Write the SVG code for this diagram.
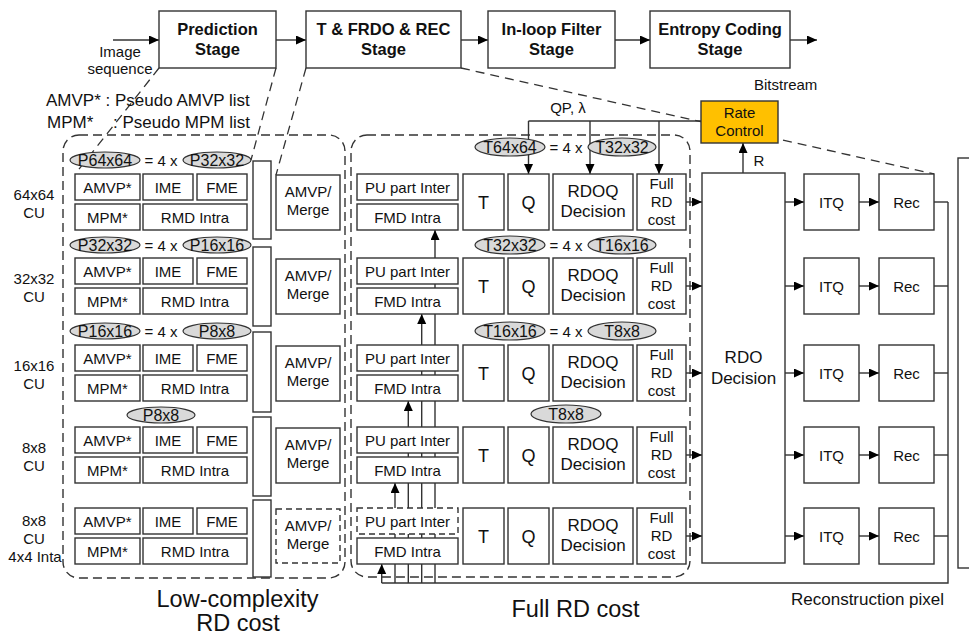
<svg xmlns="http://www.w3.org/2000/svg" width="969" height="638" viewBox="0 0 969 638">
<style>
text{font-family:"Liberation Sans",Arial,Helvetica,sans-serif;fill:#111;text-anchor:middle}
.t15{font-size:15px}
.t16{font-size:16px}
.t17{font-size:17px}
.t18{font-size:18px}
.big{font-size:23.5px}
.bold{font-size:16.5px;font-weight:bold}
.st{text-anchor:start}
.box{fill:#fff;stroke:#333;stroke-width:1.4}
.dbox{fill:#fff;stroke:#333;stroke-width:1.4;stroke-dasharray:6 4}
.ell{fill:#d9d9d9;stroke:#333;stroke-width:1.2}
.rc{fill:#ffc000;stroke:#333;stroke-width:1.4}
.ln{fill:none;stroke:#333;stroke-width:1.4}
.arr{fill:none;stroke:#333;stroke-width:1.4;marker-end:url(#ah)}
.dl{fill:none;stroke:#333;stroke-width:1.3;stroke-dasharray:9 6}
.panel{fill:none;stroke:#333;stroke-width:1.4;stroke-dasharray:9 5}
</style>
<defs>
<marker id="ah" markerUnits="userSpaceOnUse" markerWidth="11" markerHeight="10" refX="10" refY="4.5" orient="auto">
<path d="M0,0 L10,4.5 L0,9 z" fill="#000"/>
</marker>
</defs>
<rect width="969" height="638" fill="#fff"/>

<g id="connectors">
<!-- dashed guide lines -->
<line class="dl" x1="159" y1="68" x2="76" y2="173"/>
<line class="dl" x1="276" y1="68" x2="251" y2="160"/>
<line class="dl" x1="306" y1="68" x2="276" y2="175"/>
<line class="dl" x1="461" y1="68" x2="934" y2="174"/>
<!-- stage pipeline -->
<line class="arr" x1="113" y1="40" x2="159" y2="40"/>
<line class="arr" x1="276" y1="40" x2="306" y2="40"/>
<line class="arr" x1="461" y1="40" x2="488" y2="40"/>
<line class="arr" x1="615" y1="40" x2="650" y2="40"/>
<line class="arr" x1="790" y1="40" x2="817" y2="40"/>
<!-- QP lambda -->
<line class="ln" x1="528.5" y1="121" x2="701" y2="121"/>
<line class="arr" x1="528.5" y1="121" x2="528.5" y2="174"/>
<line class="arr" x1="590" y1="121" x2="590" y2="174"/>
<line class="arr" x1="659" y1="121" x2="659" y2="174"/>
<!-- R -->
<line class="arr" x1="743" y1="173" x2="743" y2="143"/>
<!-- row flows -->
<line class="arr" x1="686" y1="202" x2="702" y2="202"/>
<line class="arr" x1="686" y1="286" x2="702" y2="286"/>
<line class="arr" x1="686" y1="373" x2="702" y2="373"/>
<line class="arr" x1="686" y1="455" x2="702" y2="455"/>
<line class="arr" x1="686" y1="536" x2="702" y2="536"/>
<line class="arr" x1="785" y1="202" x2="804" y2="202"/>
<line class="arr" x1="785" y1="286" x2="804" y2="286"/>
<line class="arr" x1="785" y1="373" x2="804" y2="373"/>
<line class="arr" x1="785" y1="455" x2="804" y2="455"/>
<line class="arr" x1="785" y1="536" x2="804" y2="536"/>
<line class="arr" x1="859" y1="202" x2="879" y2="202"/>
<line class="arr" x1="859" y1="286" x2="879" y2="286"/>
<line class="arr" x1="859" y1="373" x2="879" y2="373"/>
<line class="arr" x1="859" y1="455" x2="879" y2="455"/>
<line class="arr" x1="859" y1="536" x2="879" y2="536"/>
<!-- reconstruction bus -->
<line class="ln" x1="934" y1="202" x2="948" y2="202"/>
<line class="ln" x1="934" y1="286" x2="948" y2="286"/>
<line class="ln" x1="934" y1="373" x2="948" y2="373"/>
<line class="ln" x1="934" y1="455" x2="948" y2="455"/>
<line class="ln" x1="934" y1="536" x2="948" y2="536"/>
<polyline class="ln" points="948,202 948,583 381.7,583"/>
<line class="arr" x1="381.7" y1="583" x2="381.7" y2="564"/>
<line class="arr" x1="395" y1="583" x2="395" y2="483"/>
<line class="arr" x1="408.3" y1="583" x2="408.3" y2="401"/>
<line class="arr" x1="421.7" y1="583" x2="421.7" y2="314"/>
<line class="arr" x1="435" y1="583" x2="435" y2="230"/>
</g>

<g id="labels">
<text class="t15" x="120" y="57">Image</text>
<text class="t15" x="120" y="74">sequence</text>
<text class="t17 st" x="46" y="106">AMVP* : Pseudo AMVP list</text>
<text class="t17 st" x="47" y="128">MPM*<tspan x="113">: Pseudo MPM list</tspan></text>
<text class="t15 st" x="754" y="90">Bitstream</text>
<text class="t15" x="568" y="113">QP, λ</text>
<text class="t15" x="759" y="166">R</text>
<text class="t17 st" x="791" y="605">Reconstruction pixel</text>
<text class="big" x="237.5" y="607">Low-complexity</text>
<text class="big" x="238" y="631">RD cost</text>
<text class="big" x="575.5" y="617">Full RD cost</text>
<text class="t15" x="34" y="200">64x64</text><text class="t15" x="34" y="218">CU</text>
<text class="t15" x="34" y="284">32x32</text><text class="t15" x="34" y="302">CU</text>
<text class="t15" x="34" y="371">16x16</text><text class="t15" x="34" y="389">CU</text>
<text class="t15" x="34" y="453">8x8</text><text class="t15" x="34" y="471">CU</text>
<text class="t15" x="34" y="526">8x8</text><text class="t15" x="34" y="544">CU</text><text class="t15" x="35" y="562">4x4 Inta</text>
</g>

<g id="panels">
<rect class="panel" x="63" y="135" width="282" height="443" rx="16"/>
<rect class="panel" x="351" y="135" width="339" height="442" rx="16"/>
</g>

<g id="stage-prediction"><rect class="box" x="159" y="11" width="117" height="57"/><text class="bold" x="217.5" y="35">Prediction</text><text class="bold" x="217.5" y="55">Stage</text></g>
<g id="stage-t-frdo-rec"><rect class="box" x="306" y="11" width="155" height="57"/><text class="bold" x="383.5" y="35">T &amp; FRDO &amp; REC</text><text class="bold" x="383.5" y="55">Stage</text></g>
<g id="stage-inloop"><rect class="box" x="488" y="11" width="127" height="57"/><text class="bold" x="551.5" y="35">In-loop Filter</text><text class="bold" x="551.5" y="55">Stage</text></g>
<g id="stage-entropy"><rect class="box" x="650" y="11" width="140" height="57"/><text class="bold" x="720" y="35">Entropy Coding</text><text class="bold" x="720" y="55">Stage</text></g>
<g id="rate-control"><rect class="rc" x="701" y="101" width="77" height="42"/><text class="t15" x="739.5" y="118">Rate</text><text class="t15" x="739.5" y="136">Control</text></g>

<!-- ellipse tags left -->
<g id="tags-left">
<ellipse class="ell" cx="105" cy="160" rx="35" ry="8"/><text class="t16" x="105" y="165.5">P64x64</text>
<text class="t15" x="161" y="165.5">= 4 x</text>
<ellipse class="ell" cx="217" cy="160" rx="34" ry="8"/><text class="t16" x="217" y="165.5">P32x32</text>
<ellipse class="ell" cx="105" cy="245" rx="35" ry="8"/><text class="t16" x="105" y="250.5">P32x32</text>
<text class="t15" x="161" y="250.5">= 4 x</text>
<ellipse class="ell" cx="217" cy="245" rx="34" ry="8"/><text class="t16" x="217" y="250.5">P16x16</text>
<ellipse class="ell" cx="105" cy="331" rx="35" ry="8"/><text class="t16" x="105" y="336.5">P16x16</text>
<text class="t15" x="161" y="336.5">= 4 x</text>
<ellipse class="ell" cx="217" cy="331" rx="34" ry="8"/><text class="t16" x="217" y="336.5">P8x8</text>
<ellipse class="ell" cx="161" cy="415" rx="34" ry="8"/><text class="t16" x="161" y="420.5">P8x8</text>
</g>
<g id="tags-mid">
<ellipse class="ell" cx="510" cy="147" rx="35" ry="9"/><text class="t16" x="510" y="152.5">T64x64</text>
<text class="t15" x="566" y="152.5">= 4 x</text>
<ellipse class="ell" cx="622" cy="147" rx="34" ry="9"/><text class="t16" x="622" y="152.5">T32x32</text>
<ellipse class="ell" cx="510" cy="245" rx="35" ry="9"/><text class="t16" x="510" y="250.5">T32x32</text>
<text class="t15" x="566" y="250.5">= 4 x</text>
<ellipse class="ell" cx="622" cy="245" rx="34" ry="9"/><text class="t16" x="622" y="250.5">T16x16</text>
<ellipse class="ell" cx="510" cy="331" rx="35" ry="9"/><text class="t16" x="510" y="336.5">T16x16</text>
<text class="t15" x="566" y="336.5">= 4 x</text>
<ellipse class="ell" cx="622" cy="331" rx="34" ry="9"/><text class="t16" x="622" y="336.5">T8x8</text>
<ellipse class="ell" cx="566" cy="414" rx="35" ry="9"/><text class="t16" x="566" y="419.5">T8x8</text>
</g>

<!-- left panel rows -->
<g id="pred-64">
<rect class="box" x="75" y="174" width="65" height="26"/><text class="t15" x="107.5" y="192.5">AMVP*</text>
<rect class="box" x="143" y="174" width="50" height="26"/><text class="t15" x="168" y="192.5">IME</text>
<rect class="box" x="197" y="174" width="50" height="26"/><text class="t15" x="222" y="192.5">FME</text>
<rect class="box" x="75" y="204" width="65" height="26"/><text class="t15" x="107.5" y="222.5">MPM*</text>
<rect class="box" x="143" y="204" width="104" height="26"/><text class="t15" x="195" y="222.5">RMD Intra</text>
</g>
<g id="pred-32">
<rect class="box" x="75" y="258" width="65" height="26"/><text class="t15" x="107.5" y="276.5">AMVP*</text>
<rect class="box" x="143" y="258" width="50" height="26"/><text class="t15" x="168" y="276.5">IME</text>
<rect class="box" x="197" y="258" width="50" height="26"/><text class="t15" x="222" y="276.5">FME</text>
<rect class="box" x="75" y="288" width="65" height="26"/><text class="t15" x="107.5" y="306.5">MPM*</text>
<rect class="box" x="143" y="288" width="104" height="26"/><text class="t15" x="195" y="306.5">RMD Intra</text>
</g>
<g id="pred-16">
<rect class="box" x="75" y="345" width="65" height="26"/><text class="t15" x="107.5" y="363.5">AMVP*</text>
<rect class="box" x="143" y="345" width="50" height="26"/><text class="t15" x="168" y="363.5">IME</text>
<rect class="box" x="197" y="345" width="50" height="26"/><text class="t15" x="222" y="363.5">FME</text>
<rect class="box" x="75" y="375" width="65" height="26"/><text class="t15" x="107.5" y="393.5">MPM*</text>
<rect class="box" x="143" y="375" width="104" height="26"/><text class="t15" x="195" y="393.5">RMD Intra</text>
</g>
<g id="pred-8">
<rect class="box" x="75" y="427" width="65" height="26"/><text class="t15" x="107.5" y="445.5">AMVP*</text>
<rect class="box" x="143" y="427" width="50" height="26"/><text class="t15" x="168" y="445.5">IME</text>
<rect class="box" x="197" y="427" width="50" height="26"/><text class="t15" x="222" y="445.5">FME</text>
<rect class="box" x="75" y="457" width="65" height="26"/><text class="t15" x="107.5" y="475.5">MPM*</text>
<rect class="box" x="143" y="457" width="104" height="26"/><text class="t15" x="195" y="475.5">RMD Intra</text>
</g>
<g id="pred-8-4x4">
<rect class="box" x="75" y="508" width="65" height="26"/><text class="t15" x="107.5" y="526.5">AMVP*</text>
<rect class="box" x="143" y="508" width="50" height="26"/><text class="t15" x="168" y="526.5">IME</text>
<rect class="box" x="197" y="508" width="50" height="26"/><text class="t15" x="222" y="526.5">FME</text>
<rect class="box" x="75" y="538" width="65" height="26"/><text class="t15" x="107.5" y="556.5">MPM*</text>
<rect class="box" x="143" y="538" width="104" height="26"/><text class="t15" x="195" y="556.5">RMD Intra</text>
</g>
<g id="buffers">
<rect class="box" x="253" y="161" width="18" height="78"/>
<rect class="box" x="253" y="247" width="18" height="79"/>
<rect class="box" x="253" y="332" width="18" height="80"/>
<rect class="box" x="253" y="417" width="18" height="79"/>
<rect class="box" x="253" y="500" width="18" height="77"/>
</g>
<g id="merge-64"><rect class="box" x="276" y="175" width="64" height="55"/><text class="t15" x="308" y="197">AMVP/</text><text class="t15" x="308" y="215">Merge</text></g>
<g id="merge-32"><rect class="box" x="276" y="259" width="64" height="55"/><text class="t15" x="308" y="281">AMVP/</text><text class="t15" x="308" y="299">Merge</text></g>
<g id="merge-16"><rect class="box" x="276" y="346" width="64" height="55"/><text class="t15" x="308" y="368">AMVP/</text><text class="t15" x="308" y="386">Merge</text></g>
<g id="merge-8"><rect class="box" x="276" y="428" width="64" height="55"/><text class="t15" x="308" y="450">AMVP/</text><text class="t15" x="308" y="468">Merge</text></g>
<g id="merge-8-4x4"><rect class="dbox" x="276" y="509" width="64" height="54"/><text class="t15" x="308" y="531">AMVP/</text><text class="t15" x="308" y="549">Merge</text></g>

<!-- middle panel rows -->
<g id="frd-64">
<rect class="box" x="357" y="174" width="101" height="26"/><text class="t15" x="407.5" y="192.5">PU part Inter</text>
<rect class="box" x="357" y="204" width="101" height="26"/><text class="t15" x="407.5" y="222.5">FMD Intra</text>
<rect class="box" x="463" y="174" width="41" height="56"/><text class="t18" x="483.5" y="208.5">T</text>
<rect class="box" x="508" y="174" width="41" height="56"/><text class="t18" x="528.5" y="208.5">Q</text>
<rect class="box" x="553" y="174" width="80" height="56"/><text class="t17" x="593" y="196.5">RDOQ</text><text class="t17" x="593" y="217">Decision</text>
<rect class="box" x="637" y="174" width="49" height="56"/><text class="t15" x="661.5" y="189">Full</text><text class="t15" x="661.5" y="207">RD</text><text class="t15" x="661.5" y="225">cost</text>
</g>
<g id="frd-32">
<rect class="box" x="357" y="258" width="101" height="26"/><text class="t15" x="407.5" y="276.5">PU part Inter</text>
<rect class="box" x="357" y="288" width="101" height="26"/><text class="t15" x="407.5" y="306.5">FMD Intra</text>
<rect class="box" x="463" y="258" width="41" height="56"/><text class="t18" x="483.5" y="292.5">T</text>
<rect class="box" x="508" y="258" width="41" height="56"/><text class="t18" x="528.5" y="292.5">Q</text>
<rect class="box" x="553" y="258" width="80" height="56"/><text class="t17" x="593" y="280.5">RDOQ</text><text class="t17" x="593" y="301">Decision</text>
<rect class="box" x="637" y="258" width="49" height="56"/><text class="t15" x="661.5" y="273">Full</text><text class="t15" x="661.5" y="291">RD</text><text class="t15" x="661.5" y="309">cost</text>
</g>
<g id="frd-16">
<rect class="box" x="357" y="345" width="101" height="26"/><text class="t15" x="407.5" y="363.5">PU part Inter</text>
<rect class="box" x="357" y="375" width="101" height="26"/><text class="t15" x="407.5" y="393.5">FMD Intra</text>
<rect class="box" x="463" y="345" width="41" height="56"/><text class="t18" x="483.5" y="379.5">T</text>
<rect class="box" x="508" y="345" width="41" height="56"/><text class="t18" x="528.5" y="379.5">Q</text>
<rect class="box" x="553" y="345" width="80" height="56"/><text class="t17" x="593" y="367.5">RDOQ</text><text class="t17" x="593" y="388">Decision</text>
<rect class="box" x="637" y="345" width="49" height="56"/><text class="t15" x="661.5" y="360">Full</text><text class="t15" x="661.5" y="378">RD</text><text class="t15" x="661.5" y="396">cost</text>
</g>
<g id="frd-8">
<rect class="box" x="357" y="427" width="101" height="26"/><text class="t15" x="407.5" y="445.5">PU part Inter</text>
<rect class="box" x="357" y="457" width="101" height="26"/><text class="t15" x="407.5" y="475.5">FMD Intra</text>
<rect class="box" x="463" y="427" width="41" height="56"/><text class="t18" x="483.5" y="461.5">T</text>
<rect class="box" x="508" y="427" width="41" height="56"/><text class="t18" x="528.5" y="461.5">Q</text>
<rect class="box" x="553" y="427" width="80" height="56"/><text class="t17" x="593" y="449.5">RDOQ</text><text class="t17" x="593" y="470">Decision</text>
<rect class="box" x="637" y="427" width="49" height="56"/><text class="t15" x="661.5" y="442">Full</text><text class="t15" x="661.5" y="460">RD</text><text class="t15" x="661.5" y="478">cost</text>
</g>
<g id="frd-8-4x4">
<rect class="dbox" x="357" y="508" width="101" height="26"/><text class="t15" x="407.5" y="526.5">PU part Inter</text>
<rect class="box" x="357" y="538" width="101" height="26"/><text class="t15" x="407.5" y="556.5">FMD Intra</text>
<rect class="box" x="463" y="508" width="41" height="56"/><text class="t18" x="483.5" y="542.5">T</text>
<rect class="box" x="508" y="508" width="41" height="56"/><text class="t18" x="528.5" y="542.5">Q</text>
<rect class="box" x="553" y="508" width="80" height="56"/><text class="t17" x="593" y="530.5">RDOQ</text><text class="t17" x="593" y="551">Decision</text>
<rect class="box" x="637" y="508" width="49" height="56"/><text class="t15" x="661.5" y="523">Full</text><text class="t15" x="661.5" y="541">RD</text><text class="t15" x="661.5" y="559">cost</text>
</g>

<g id="rdo-decision"><rect class="box" x="702" y="173" width="83" height="390"/><text class="t17" x="743.5" y="363">RDO</text><text class="t17" x="743.5" y="384">Decision</text></g>
<g id="itq-rec">
<rect class="box" x="804" y="174" width="55" height="56"/><text class="t15" x="831.5" y="207.5">ITQ</text>
<rect class="box" x="879" y="174" width="55" height="56"/><text class="t15" x="906.5" y="207.5">Rec</text>
<rect class="box" x="804" y="258" width="55" height="56"/><text class="t15" x="831.5" y="291.5">ITQ</text>
<rect class="box" x="879" y="258" width="55" height="56"/><text class="t15" x="906.5" y="291.5">Rec</text>
<rect class="box" x="804" y="345" width="55" height="56"/><text class="t15" x="831.5" y="378.5">ITQ</text>
<rect class="box" x="879" y="345" width="55" height="56"/><text class="t15" x="906.5" y="378.5">Rec</text>
<rect class="box" x="804" y="427" width="55" height="56"/><text class="t15" x="831.5" y="460.5">ITQ</text>
<rect class="box" x="879" y="427" width="55" height="56"/><text class="t15" x="906.5" y="460.5">Rec</text>
<rect class="box" x="804" y="508" width="55" height="56"/><text class="t15" x="831.5" y="541.5">ITQ</text>
<rect class="box" x="879" y="508" width="55" height="56"/><text class="t15" x="906.5" y="541.5">Rec</text>
</g>
<g id="right-buffer"><rect class="box" x="958" y="158" width="30" height="410"/></g>
</svg>
